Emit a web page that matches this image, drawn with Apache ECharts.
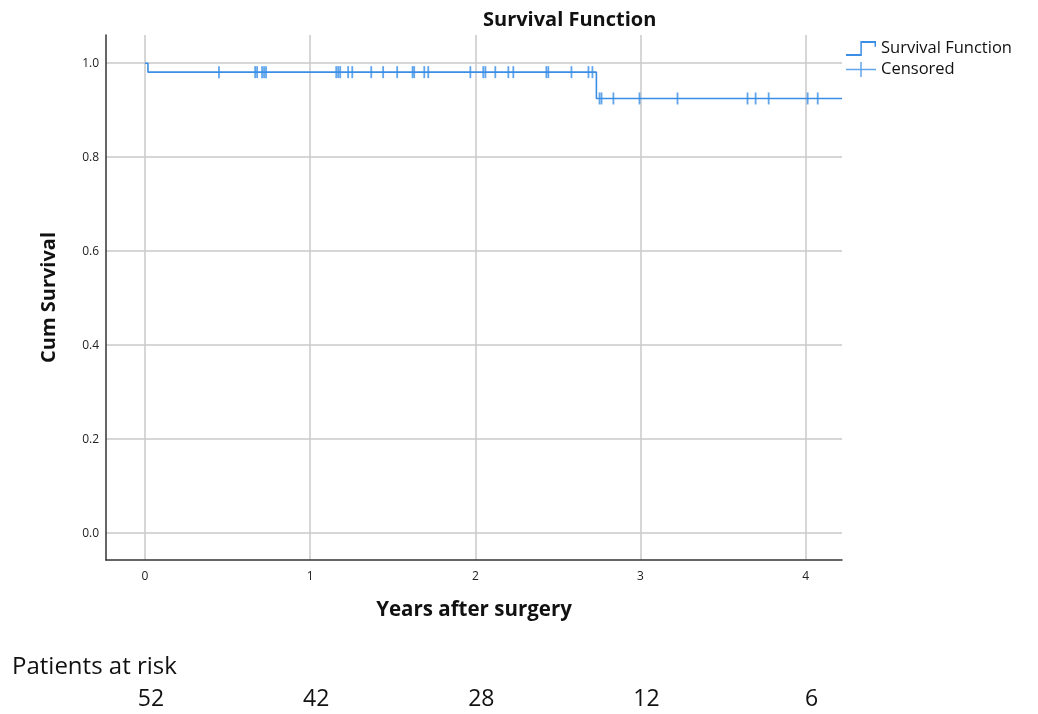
<!DOCTYPE html>
<html>
<head>
<meta charset="utf-8">
<script src="https://cdn.jsdelivr.net/npm/echarts@6/dist/echarts.min.js"></script>
<style>
html,body{margin:0;padding:0;background:#fff;}
#chart{width:1038px;height:714px;}
</style>
</head>
<body>
<div id="chart"></div>
<script>
// Kaplan-Meier steps (time in years, cumulative survival)
const stepTimes = [0, 0.018, 2.733, 4.22];
const stepSurv = [1.0, 0.981, 0.925, 0.925];
// Censored observation times (years)
const censorTimes = [0.448, 0.667, 0.679, 0.709, 0.721, 0.733,
  1.158, 1.170, 1.182, 1.230, 1.255, 1.370, 1.442, 1.527, 1.620, 1.630,
  1.691, 1.715, 1.970, 2.048, 2.061, 2.121, 2.200, 2.230, 2.430, 2.442,
  2.582, 2.685, 2.709, 2.752, 2.764, 2.836, 2.994, 3.224, 3.648, 3.697,
  3.776, 4.012, 4.073];
// Patients at risk table
const atRiskYears = [0, 1, 2, 3, 4];
const atRisk = [52, 42, 28, 12, 6];

const X_MIN = -0.236, X_MAX = 4.22, Y_MIN = -0.057, Y_MAX = 1.06;
const BLUE = '#3a8ee6';
const FONT = '"Open Sans", sans-serif';

function survAt(t) {
  let s = stepSurv[0];
  for (let i = 0; i < stepTimes.length; i++) if (stepTimes[i] <= t) s = stepSurv[i];
  return s;
}

const kmData = stepTimes.map((t, i) => [t, stepSurv[i]]);
const censorData = censorTimes.map(t => [t, survAt(t)]);

const chart = echarts.init(document.getElementById('chart'));
chart.setOption({
  animation: false,
  backgroundColor: '#fff',
  title: [
    { text: 'Survival Function', left: 478, top: 5,
      textStyle: { fontFamily: FONT, fontSize: 20, fontWeight: 'bold', color: '#111' } },
    { text: 'Patients at risk', left: 7, top: 650,
      textStyle: { fontFamily: FONT, fontSize: 24, fontWeight: 'normal', color: '#111' } }
  ],
  legend: {
    orient: 'vertical', left: 846, top: 40, itemGap: 4, padding: 0,
    itemWidth: 30, itemHeight: 15, symbolKeepAspect: false,
    textStyle: { fontFamily: FONT, fontSize: 16.5, color: '#111' },
    data: [
      { name: 'Survival Function', icon: 'path://M0,11.2 L15.2,11.2 L15.2,0.2 L31.8,0.2 L31.8,5 L30.2,5 L30.2,1.8 L16.8,1.8 L16.8,12.8 L0,12.8 Z' },
      { name: 'Censored', icon: 'path://M0,6.2 L32,6.2 L32,7.8 L0,7.8 Z M15.2,0 L16.8,0 L16.8,14 L15.2,14 Z' }
    ]
  },
  grid: { left: 106, right: 196, top: 35, bottom: 154 },
  xAxis: [
    {
      type: 'value', min: X_MIN, max: X_MAX,
      name: 'Years after surgery', nameLocation: 'middle', nameGap: 40,
      nameTextStyle: { fontFamily: FONT, fontSize: 20.5, fontWeight: 'bold', color: '#111' },
      axisLine: { show: true, onZero: false, lineStyle: { color: '#333', width: 1.5 } },
      axisTick: { show: false },
      axisLabel: { showMinLabel: false, showMaxLabel: false, margin: 11,
        fontFamily: FONT, fontSize: 12, color: '#222' },
      splitLine: { show: true, showMinLine: false, showMaxLine: false,
        lineStyle: { color: '#c8c8c8', width: 1.5 } }
    },
    {
      type: 'value', min: X_MIN, max: X_MAX, position: 'bottom', offset: 122,
      axisLine: { show: false }, axisTick: { show: false }, splitLine: { show: false },
      axisLabel: {
        showMinLabel: false, showMaxLabel: false, margin: 6, padding: [0,0,0,12],
        fontFamily: FONT, fontSize: 23, color: '#111',
        formatter: v => { const i = atRiskYears.indexOf(Math.round(v * 1000) / 1000); return i >= 0 ? String(atRisk[i]) : ''; }
      }
    }
  ],
  yAxis: {
    type: 'value', min: Y_MIN, max: Y_MAX,
    name: 'Cum Survival', nameLocation: 'middle', nameGap: 47, nameRotate: 90,
    nameTextStyle: { fontFamily: FONT, fontSize: 20, fontWeight: 'bold', color: '#111' },
    axisLine: { show: true, onZero: false, lineStyle: { color: '#333', width: 1.5 } },
    axisTick: { show: false },
    axisLabel: { showMinLabel: false, showMaxLabel: false, margin: 7,
      fontFamily: FONT, fontSize: 12, color: '#222', formatter: v => v.toFixed(1) },
    splitLine: { show: true, showMinLine: false, showMaxLine: false,
      lineStyle: { color: '#c8c8c8', width: 1.5 } }
  },
  series: [
    { name: 'Survival Function', type: 'line', step: 'end', data: kmData,
      showSymbol: false, color: BLUE, lineStyle: { color: BLUE, width: 1.6 }, z: 3 },
    { name: 'Censored', type: 'scatter', data: censorData, color: BLUE,
      symbol: 'rect', symbolSize: [1.8, 12], itemStyle: { color: BLUE }, z: 4 }
  ]
});
</script>
</body>
</html>
